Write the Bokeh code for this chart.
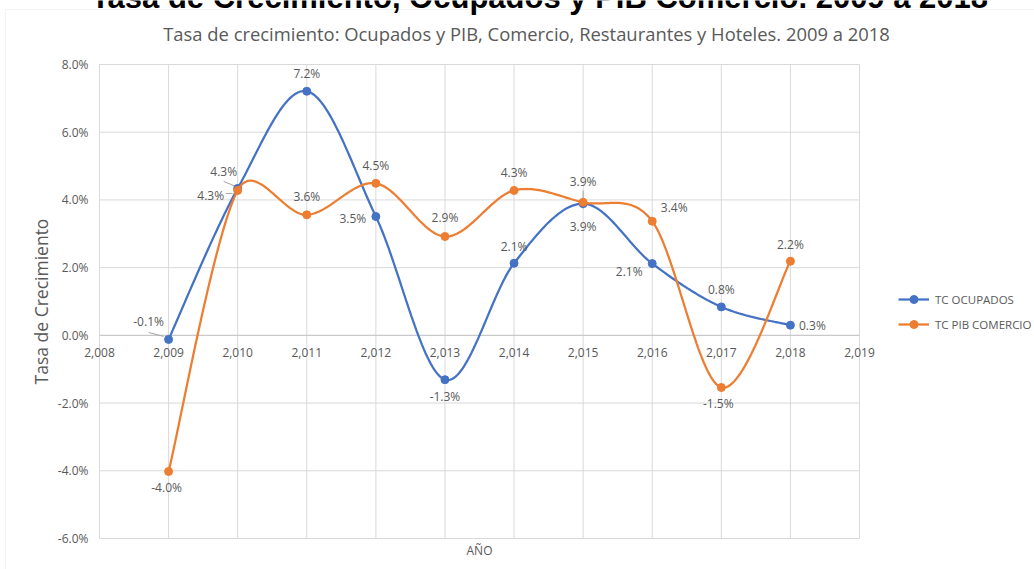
import numpy as np
from bokeh.plotting import figure
from bokeh.models import (Range1d, Label, LabelSet, Legend, LegendItem,
                          BoxAnnotation, ColumnDataSource)
from bokeh.core.properties import value
from bokeh.embed import file_html
from bokeh.resources import INLINE

# ---------------- data ----------------
years = [2009, 2010, 2011, 2012, 2013, 2014, 2015, 2016, 2017, 2018]
ocupados = [-0.12, 4.34, 7.21, 3.51, -1.31, 2.13, 3.89, 2.12, 0.84, 0.30]
pib_comercio = [-4.02, 4.28, 3.56, 4.49, 2.92, 4.28, 3.93, 3.37, -1.54, 2.19]
series_names = ["TC OCUPADOS", "TC PIB COMERCIO"]
x_ticks = list(range(2008, 2020))
y_ticks = [-6, -4, -2, 0, 2, 4, 6, 8]
title_text = "Tasa de Crecimiento, Ocupados y PIB Comercio. 2009 a 2018"
subtitle_text = "Tasa de crecimiento: Ocupados y PIB, Comercio, Restaurantes y Hoteles. 2009 a 2018"
y_title = "Tasa de Crecimiento"
x_title = "AÑO"

# ---------------- styles / layout ----------------
W, H = 1034, 569
FL, FR, FT, FB = 99, 859, 64, 538          # plot-area box in canvas px
X0, X1, Y0, Y1 = 2008, 2019, -6, 8
KX = (FR - FL) / (X1 - X0)
KY = (FB - FT) / (Y1 - Y0)
BLUE, ORANGE = "#4472C4", "#ED7D31"
GREY_TXT = "#595959"
GRID = "#d9d9d9"
FONT = "Open Sans"

# data-label offsets in screen px (dx right, dy down)
ocu_off = [(-20, -18), (-14, -17), (0, -18), (-23, 2), (0, 17),
           (0, -17), (0, 23), (-23, 8), (0, -17), (22, 0)]
pib_off = [(-2, 16), (-27, 5), (0, -18), (0, -18), (0, -19),
           (0, -18), (0, -21), (22, -14), (-3, 16), (0, -17)]


def to_sx(x):
    return FL + (np.asarray(x, float) - X0) * KX


def to_sy(y):
    return FB - (np.asarray(y, float) - Y0) * KY


def from_sx(sx):
    return X0 + (np.asarray(sx, float) - FL) / KX


def from_sy(sy):
    return Y0 + (FB - np.asarray(sy, float)) / KY


def smooth(xs, ys, n=40):
    P = np.column_stack([to_sx(xs), to_sy(ys)])
    out = []
    for i in range(len(P) - 1):
        p0 = P[i - 1] if i > 0 else P[i]
        p1, p2 = P[i], P[i + 1]
        p3 = P[i + 2] if i + 2 < len(P) else P[i + 1]
        d12 = np.linalg.norm(p2 - p1)
        t1 = (p2 - p0) / 6.0
        t2 = (p3 - p1) / 6.0
        for t in (t1, t2):
            nt = np.linalg.norm(t)
            if nt > d12 / 2 and nt > 0:
                t *= (d12 / 2) / nt
        c1, c2 = p1 + t1, p2 - t2
        tt = np.linspace(0, 1, n)[:, None]
        if i > 0:
            tt = tt[1:]
        B = ((1 - tt) ** 3) * p1 + 3 * ((1 - tt) ** 2) * tt * c1 + 3 * (1 - tt) * tt ** 2 * c2 + tt ** 3 * p2
        out.append(B)
    B = np.vstack(out)
    return from_sx(B[:, 0]), from_sy(B[:, 1])


# frame covers the whole canvas; ranges chosen so the plot box sits at FL..FR, FT..FB
p = figure(width=W, height=H,
           x_range=Range1d(float(from_sx(0)), float(from_sx(W))),
           y_range=Range1d(float(from_sy(H)), float(from_sy(0))),
           output_backend="svg", toolbar_location=None, title=None,
           x_axis_location=None, y_axis_location=None,
           min_border=0, min_border_left=0, min_border_right=0,
           min_border_top=0, min_border_bottom=0)
p.outline_line_color = None
p.background_fill_color = "white"
p.border_fill_color = "white"
p.xgrid.visible = False
p.ygrid.visible = False

# chart-area border
p.add_layout(BoxAnnotation(left=float(from_sx(5)), right=float(from_sx(W + 20)),
                           top=float(from_sy(9)), bottom=float(from_sy(H + 20)),
                           fill_alpha=0, line_color=GRID, line_width=1))

# grid
p.segment(x0=x_ticks, y0=[Y0] * len(x_ticks), x1=x_ticks, y1=[Y1] * len(x_ticks),
          line_color=GRID, line_width=1)
p.segment(x0=[X0] * len(y_ticks), y0=y_ticks, x1=[X1] * len(y_ticks), y1=y_ticks,
          line_color=GRID, line_width=1)
p.segment(x0=[X0], y0=[0], x1=[X1], y1=[0], line_color="#c6c6c6", line_width=1)

# y tick labels
yt_src = ColumnDataSource(dict(x=[X0] * len(y_ticks), y=y_ticks, t=[f"{v:.1f}%" for v in y_ticks]))
p.add_layout(LabelSet(x="x", y="y", text="t", source=yt_src, x_offset=-11,
                      text_align="right", text_baseline="middle",
                      text_font=value(FONT), text_font_size="12px", text_color=GREY_TXT))

# x tick labels on the zero line
xt_src = ColumnDataSource(dict(x=x_ticks, y=[0] * len(x_ticks), t=[f"{v:,}" for v in x_ticks]))
p.add_layout(LabelSet(x="x", y="y", text="t", source=xt_src, y_offset=-17,
                      text_align="center", text_baseline="middle",
                      text_font=value(FONT), text_font_size="12px", text_color=GREY_TXT))

# leader lines (screen px offsets from points)
lead = [(years[0], ocupados[0], -20, -7, -5, -3),
        (years[1], ocupados[1], -14, -7, -2, -2),
        (years[1], pib_comercio[1], -12, 3, -5, 3),
        (years[6], ocupados[6], 0, -13, 0, 5)]
lx0, ly0, lx1, ly1 = [], [], [], []
for (x, y, a, b, c, d) in lead:
    sx, sy = float(to_sx(x)), float(to_sy(y))
    lx0.append(float(from_sx(sx + a))); ly0.append(float(from_sy(sy + b)))
    lx1.append(float(from_sx(sx + c))); ly1.append(float(from_sy(sy + d)))
p.segment(lx0, ly0, lx1, ly1, line_color="#a6a6a6", line_width=1)

# series
renderers = []
for vals, col, offs in [(ocupados, BLUE, ocu_off), (pib_comercio, ORANGE, pib_off)]:
    cx, cy = smooth(years, vals)
    lr = p.line(cx, cy, line_color=col, line_width=2.25)
    sr = p.scatter(years, vals, size=8, fill_color=col, line_color=col)
    renderers.append([lr, sr])
    src = ColumnDataSource(dict(x=years, y=vals, t=[f"{v:.1f}%" for v in vals],
                                dx=[o[0] for o in offs], dy=[-o[1] for o in offs]))
    p.add_layout(LabelSet(x="x", y="y", text="t", source=src, x_offset="dx", y_offset="dy",
                          text_align="center", text_baseline="middle",
                          text_font=value(FONT), text_font_size="12px", text_color=GREY_TXT))

legend = Legend(items=[LegendItem(label=series_names[i], renderers=renderers[i]) for i in range(2)],
                location=(898, H - 334), orientation="vertical",
                border_line_color=None, background_fill_alpha=0, padding=0, margin=0,
                spacing=5, glyph_width=31, glyph_height=20, label_height=20,
                label_standoff=6, label_text_font=FONT, label_text_font_size="11.5px",
                label_text_color=GREY_TXT)
p.add_layout(legend)

# titles (screen units: x from left, y from bottom of canvas)
p.add_layout(Label(x=539, y=H + 3, x_units="screen", y_units="screen", text=title_text,
                   text_font="Liberation Sans", text_font_style="bold", text_font_size="31px",
                   text_align="center", text_baseline="alphabetic", text_color="black"))
p.add_layout(Label(x=526, y=H - 33, x_units="screen", y_units="screen", text=subtitle_text,
                   text_font=FONT, text_font_size="18.4px", text_align="center",
                   text_baseline="middle", text_color=GREY_TXT))
p.add_layout(Label(x=(FL + FR) / 2, y=H - 550, x_units="screen", y_units="screen", text=x_title,
                   text_font=FONT, text_font_size="12px", text_align="center",
                   text_baseline="middle", text_color=GREY_TXT))
p.add_layout(Label(x=40, y=H - (FT + FB) / 2, x_units="screen", y_units="screen", text=y_title,
                   angle=np.pi / 2, text_font=FONT, text_font_size="17.5px", text_align="center",
                   text_baseline="middle", text_color=GREY_TXT))

open("out.html", "w").write(file_html(p, INLINE))
